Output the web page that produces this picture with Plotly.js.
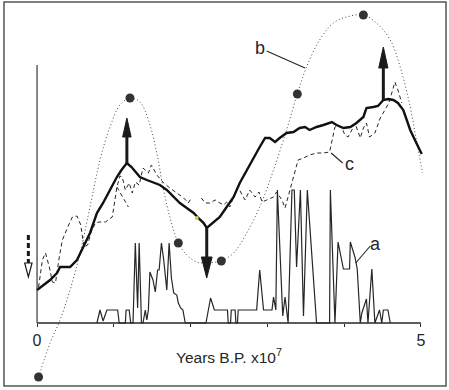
<!DOCTYPE html>
<html>
<head>
<meta charset="utf-8">
<script src="https://cdn.plot.ly/plotly-3.0.1.min.js"></script>
<style>
  html, body { margin: 0; padding: 0; background: #ffffff; }
  #chart { width: 449px; height: 390px; }
</style>
</head>
<body>
<div id="chart"></div>
<script>
// ---- Data (x in years B.P. x10^7, y in arbitrary units) ----
// thick solid curve
const solidX = [0.00,0.08,0.17,0.26,0.30,0.36,0.43,0.52,0.60,0.69,0.78,0.86,0.95,1.04,1.10,1.17,1.23,1.30,1.34,1.43,1.51,1.60,1.69,1.78,1.86,1.95,2.04,2.10,2.17,2.21,2.30,2.38,2.47,2.56,2.64,2.73,2.82,2.90,2.97,3.03,3.10,3.16,3.25,3.34,3.42,3.49,3.55,3.64,3.73,3.79,3.84,3.90,3.99,4.08,4.16,4.25,4.29,4.38,4.44,4.51,4.57,4.64,4.70,4.77,4.86,4.94,5.01];
const solidY = [33,38,43,50,56,56,56,63,76,90,110,120,133,146,153,160,156,150,146,143,141,138,133,126,120,115,110,105,100,95,101,106,116,126,140,153,166,176,185,185,181,185,190,191,195,196,193,196,198,200,201,198,195,196,200,206,215,216,217,223,224,223,220,213,193,180,169];

// curve a (thin, bottom)
const aX = [0.78,0.82,0.86,0.91,1.05,1.07,1.15,1.16,1.20,1.22,1.25,1.28,1.31,1.33,1.36,1.38,1.41,1.43,1.45,1.47,1.51,1.54,1.57,1.59,1.62,1.65,1.69,1.72,1.75,1.78,1.82,1.84,1.87,1.90,1.93,2.20,2.26,2.31,2.48,2.49,2.52,2.53,2.58,2.59,2.61,2.62,2.86,2.90,2.95,3.06,3.08,3.11,3.13,3.20,3.23,3.27,3.32,3.35,3.38,3.43,3.47,3.52,3.64,3.81,3.82,3.88,3.92,3.99,4.07,4.08,4.14,4.17,4.21,4.23,4.29,4.31,4.36,4.40,4.46,4.49,4.51,4.57,4.60];
const aY = [0,13,2,13,13,0,0,13,13,0,0,80,15,80,0,0,13,3,13,51,43,31,53,53,80,63,33,80,45,30,28,20,15,13,0,0,25,13,13,0,0,13,13,0,0,13,13,53,13,13,26,13,133,7,26,0,133,133,56,133,7,133,0,0,133,0,81,54,54,81,66,54,0,10,24,0,54,0,13,0,13,13,0];

// curve b (dotted) and its dots
const bX = [0.02,0.17,0.30,0.43,0.56,0.69,0.82,0.95,1.08,1.21,1.34,1.45,1.56,1.64,1.73,1.84,1.95,2.08,2.21,2.34,2.40,2.56,2.73,2.90,3.08,3.25,3.39,3.51,3.68,3.86,4.03,4.25,4.42,4.60,4.73,4.86,4.94,5.02];
const bY = [-54,-20,3,33,70,116,163,196,218,225,221,203,170,136,106,80,68,61,60,61,62,70,90,116,153,193,229,256,283,300,306,308,300,283,256,216,183,150];
const dotX = [0.02,1.21,1.84,2.40,3.39,4.25];
const dotY = [-54,225,80,62,229,308];

// curve c (dashed)
const cX = [0.02,0.07,0.11,0.16,0.20,0.24,0.29,0.33,0.40,0.46,0.52,0.57,0.61,0.66,0.70,0.76,0.81,0.89,0.98,1.04,1.08,1.11,1.15,1.20,1.24,1.28,1.33,1.38,1.45,1.49,1.56,1.65,1.73,1.82,1.91,1.97,2.01,null,2.14,2.19,2.25,2.32,2.36,2.43,2.47,2.51,2.58,2.62,2.67,2.71,2.77,2.84,2.89,2.93,2.99,3.08,3.12,3.19,3.23,3.29,3.34,3.38,3.40,3.47,3.55,3.64,3.73,3.81,3.84,3.88,3.92,3.97,4.01,4.05,4.10,4.14,4.21,4.25,4.29,4.33,4.40,4.47,4.53,4.58,4.62,4.66,4.70,4.75];
const cY = [36,63,70,56,41,40,66,83,96,106,107,98,76,78,90,100,101,101,106,136,147,146,133,140,130,141,138,155,150,158,148,140,135,130,125,120,125,null,125,120,120,123,121,118,121,116,130,136,128,123,133,126,131,121,123,126,131,123,115,133,145,158,163,165,168,170,170,171,181,196,198,195,188,186,193,200,185,195,200,186,190,205,213,220,230,241,233,220];
const cBranchX = [1.04,1.10,1.15,1.19];
const cBranchY = [136,128,122,116];

// x axis ticks
const tickVals = [0,5];
const tickText = ['0','5'];
const minorTickVals = [1,2,3,4];
const axisStart = 0, axisEnd = 5;
const yAxisTop = 258;

// arrows: x, start (on curve), head base, tip
const arrowX     = [1.17, 4.51, 2.21, -0.113];
const arrowStart = [160, 223, 95, 88];
const arrowBase  = [186, 255, 66, 60];
const arrowTip   = [205, 276, 45, 46];
const arrowHalf  = [0.055, 0.06, 0.07, 0.048];
const arrowKind  = ['solid','solid','solid','hollow'];

// small yellow speck on the curve (as in the scan)
const speckX = [2.08];
const speckY = [105];

const ink = '#262626';

const traces = [
  { x: bX, y: bY, mode: 'lines', line: { color: '#444', width: 1, dash: '1px,2.5px', shape: 'spline', smoothing: 1 }, hoverinfo: 'skip' },
  { x: cX, y: cY, mode: 'lines', connectgaps: false, line: { color: ink, width: 1, dash: '4px,3px' }, hoverinfo: 'skip' },
  { x: cBranchX, y: cBranchY, mode: 'lines', line: { color: ink, width: 1, dash: '4px,3px' }, hoverinfo: 'skip' },
  { x: aX, y: aY, mode: 'lines', line: { color: ink, width: 1.2 }, hoverinfo: 'skip' },
  { x: solidX, y: solidY, mode: 'lines', line: { color: '#111', width: 2.4 }, hoverinfo: 'skip' },
  { x: dotX, y: dotY, mode: 'markers', cliponaxis: false, marker: { color: '#333', size: 9 }, hoverinfo: 'skip' },
  { x: speckX, y: speckY, mode: 'markers', marker: { color: '#d8cc3a', size: 4 }, hoverinfo: 'skip' }
];

const shapes = [];
// axis lines
shapes.push({ type: 'line', xref: 'x', yref: 'y', x0: axisStart, x1: axisEnd, y0: 0, y1: 0, line: { color: ink, width: 1.6 } });
shapes.push({ type: 'line', xref: 'x', yref: 'y', x0: axisStart, x1: axisStart, y0: 0, y1: yAxisTop, line: { color: ink, width: 1.1 } });
// arrows
for (let i = 0; i < arrowX.length; i++) {
  const x = arrowX[i], h = arrowHalf[i];
  const hollow = arrowKind[i] === 'hollow';
  shapes.push({ type: 'line', xref: 'x', yref: 'y', x0: x, x1: x, y0: arrowStart[i], y1: arrowBase[i],
    line: { color: '#1a1a1a', width: 3, dash: hollow ? '5px,3px' : 'solid' } });
  shapes.push({ type: 'path', xref: 'x', yref: 'y',
    path: `M ${x-h},${arrowBase[i]} L ${x+h},${arrowBase[i]} L ${x},${arrowTip[i]} Z`,
    fillcolor: hollow ? '#ffffff' : '#1a1a1a', line: { color: '#1a1a1a', width: hollow ? 1.2 : 1 } });
}
// figure frame
shapes.push({ type: 'rect', xref: 'paper', yref: 'paper', x0: -0.0233, x1: 1.0047, y0: -0.008, y1: 1.016, line: { color: '#555', width: 1.5 } });

const labelFont = { family: 'Liberation Sans, Arial, sans-serif', size: 18, color: ink };
const annotations = [
  { x: 2.90, y: 275, xref: 'x', yref: 'y', text: 'b', showarrow: false, font: labelFont },
  { x: 4.07, y: 159, xref: 'x', yref: 'y', text: 'c', showarrow: false, font: labelFont },
  { x: 4.41, y: 79, xref: 'x', yref: 'y', text: 'a', showarrow: false, font: labelFont }
];
// leader lines for labels
shapes.push({ type: 'line', xref: 'x', yref: 'y', x0: 2.99, y0: 272, x1: 3.49, y1: 255, line: { color: ink, width: 1.1 } });
shapes.push({ type: 'line', xref: 'x', yref: 'y', x0: 3.83, y0: 170, x1: 3.98, y1: 160, line: { color: ink, width: 1.1 } });
shapes.push({ type: 'line', xref: 'x', yref: 'y', x0: 4.15, y0: 60, x1: 4.34, y1: 77, line: { color: ink, width: 1.1 } });

const layout = {
  width: 449, height: 390,
  margin: { l: 14, r: 5, t: 8, b: 7 },
  paper_bgcolor: '#ffffff', plot_bgcolor: 'rgba(0,0,0,0)',
  showlegend: false,
  font: { family: 'Liberation Sans, Arial, sans-serif', color: ink },
  xaxis: {
    range: [-0.3, 5.3], anchor: 'free', position: 0.16,
    showline: false, zeroline: false, showgrid: false,
    tickvals: tickVals, ticktext: tickText, ticks: 'outside', ticklen: 3, tickcolor: ink, tickwidth: 1,
    minor: { tickvals: minorTickVals, ticks: 'outside', ticklen: 3, tickcolor: ink, tickwidth: 1, showgrid: false },
    tickfont: { size: 16, color: ink },
    title: { text: 'Years B.P. x10<sup>7</sup>', font: { size: 15.5, color: ink }, standoff: 3 }
  },
  yaxis: { range: [-60, 315], visible: false, showgrid: false, zeroline: false },
  shapes: shapes,
  annotations: annotations
};

Plotly.newPlot('chart', traces, layout, { staticPlot: true, displayModeBar: false });
</script>
</body>
</html>
